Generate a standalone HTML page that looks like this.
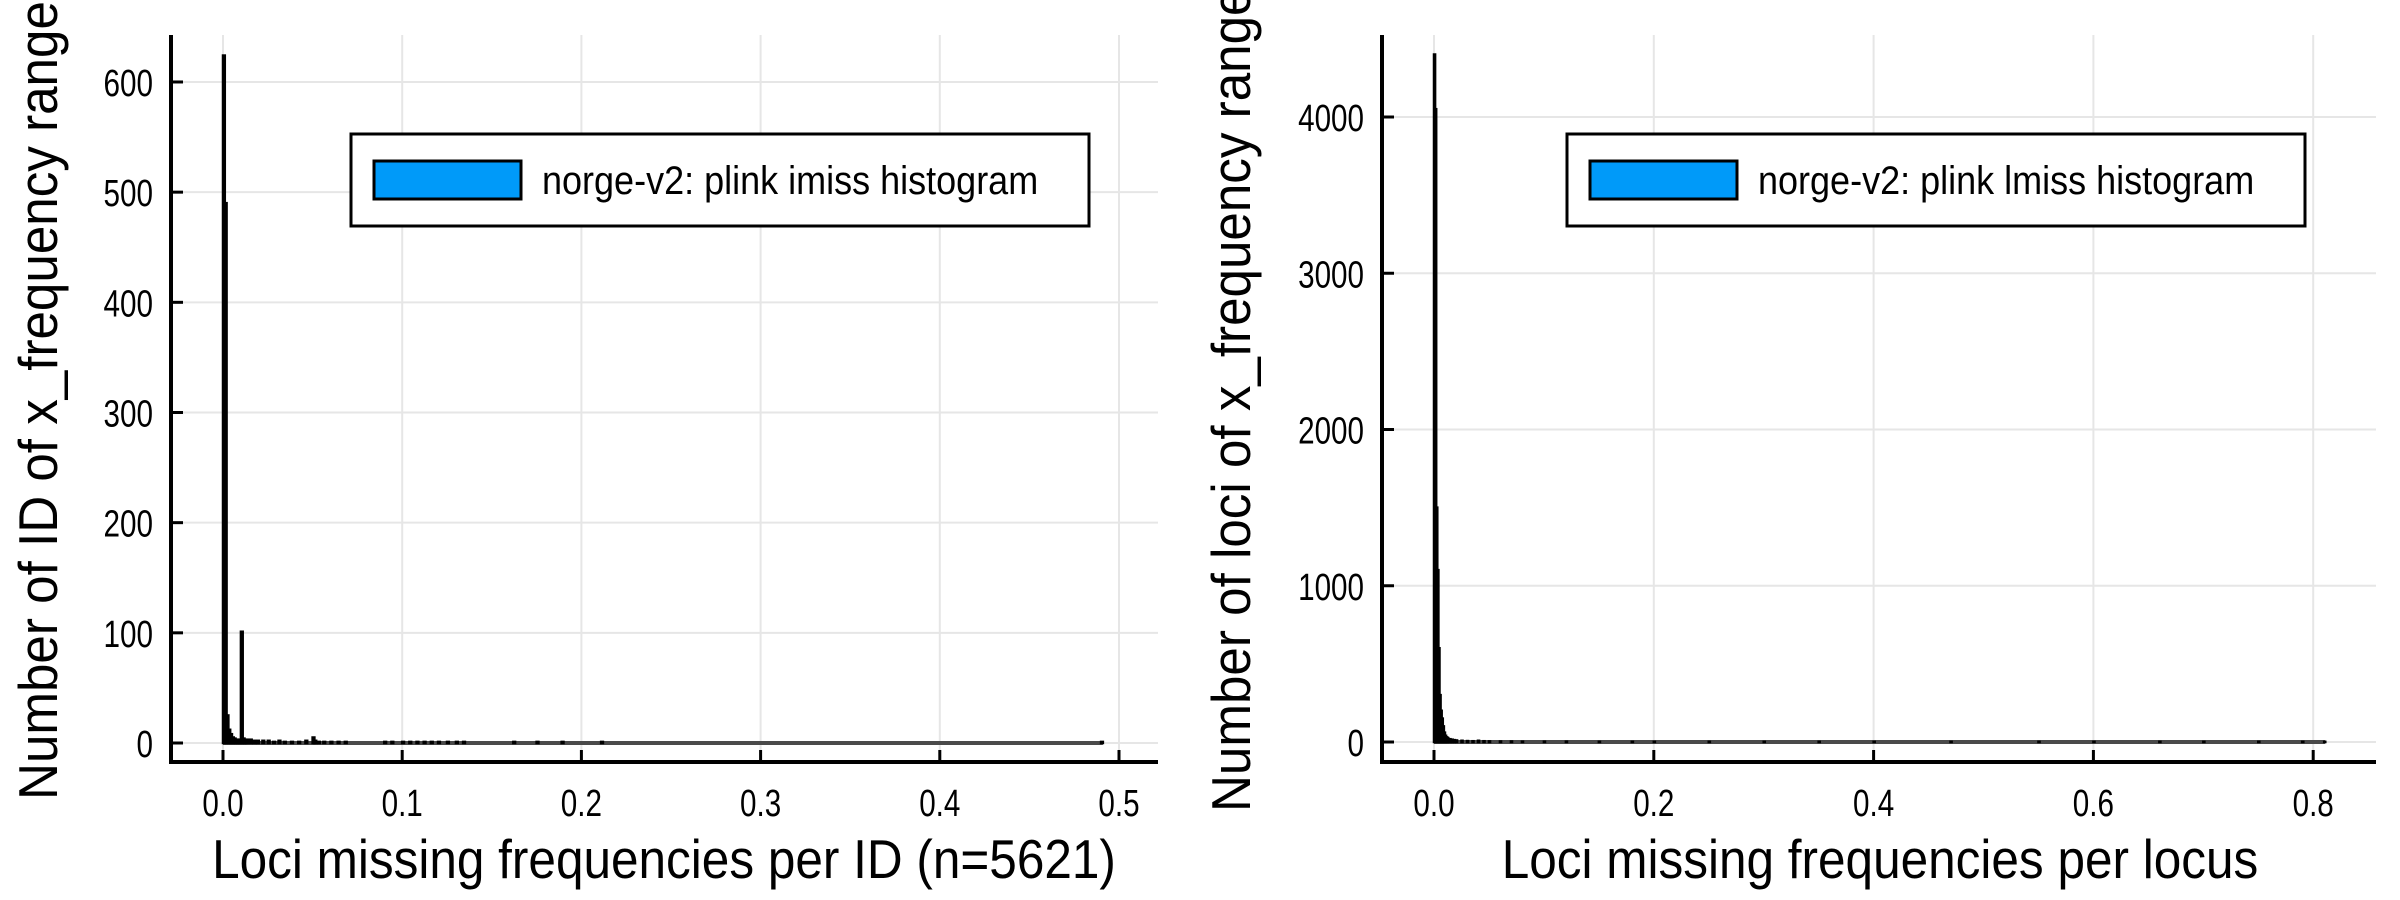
<!DOCTYPE html>
<html><head><meta charset="utf-8"><style>
html,body{margin:0;padding:0;background:#fff;}
svg{display:block;font-family:"Liberation Sans","DejaVu Sans",sans-serif;}
</style></head><body>
<svg id="chart" width="2400" height="900" viewBox="0 0 2400 900" xmlns="http://www.w3.org/2000/svg"></svg>
<script>
// ---- Left panel data (imiss) ----
const leftBinWidth = 0.001;
const leftX = [0,0.001,0.002,0.003,0.004,0.005,0.006,0.007,0.008,0.009,0.010,0.011,0.012,0.013,0.015,0.017,0.019,0.022,0.025,0.028,0.031,0.034,0.038,0.042,0.046,0.050,0.051,0.053,0.056,0.060,0.064,0.068,0.090,0.094,0.100,0.104,0.108,0.112,0.116,0.120,0.125,0.130,0.134,0.162,0.175,0.189,0.211,0.490];
const leftY = [624,490,25,12,8,5,4,3,3,3,101,4,3,3,3,2,2,2,2,1,2,1,1,1,2,5,2,1,1,1,1,1,1,1,1,1,1,1,1,1,1,1,1,1,1,1,1,1];
const leftXTicks = [0,0.1,0.2,0.3,0.4,0.5];
const leftXTickLabels = ["0.0","0.1","0.2","0.3","0.4","0.5"];
const leftYTicks = [0,100,200,300,400,500,600];
const leftYTickLabels = ["0","100","200","300","400","500","600"];

// ---- Right panel data (lmiss) ----
const rightBinWidth = 0.001;
const rightX = [0,0.001,0.002,0.003,0.004,0.005,0.006,0.007,0.008,0.009,0.010,0.011,0.012,0.014,0.016,0.018,0.020,0.025,0.030,0.035,0.040,0.045,0.050,0.060,0.070,0.080,0.100,0.120,0.150,0.180,0.200,0.250,0.300,0.350,0.400,0.470,0.550,0.600,0.660,0.700,0.750,0.790,0.810];
const rightY = [4400,4050,1500,1100,600,300,200,150,100,60,40,30,25,18,15,12,10,8,6,5,8,5,4,3,3,2,2,2,1,1,1,1,1,1,1,1,1,1,1,1,1,1,1];
const rightXTicks = [0,0.2,0.4,0.6,0.8];
const rightXTickLabels = ["0.0","0.2","0.4","0.6","0.8"];
const rightYTicks = [0,1000,2000,3000,4000];
const rightYTickLabels = ["0","1000","2000","3000","4000"];

const NS = "http://www.w3.org/2000/svg";
const svg = document.getElementById('chart');
function mk(tag, attrs, parent){
  const e = document.createElementNS(NS, tag);
  for (const k in attrs) e.setAttribute(k, attrs[k]);
  (parent||svg).appendChild(e);
  return e;
}
function squeeze(t, f){
  try {
    const w = t.getComputedTextLength();
    if (w > 0) { t.setAttribute('textLength', (w*f).toFixed(1)); t.setAttribute('lengthAdjust', 'spacingAndGlyphs'); }
  } catch(e) {}
}

function panel(cfg){
  const g = mk('g', {});
  
  
  const sx = v => cfg.x0 + (v - cfg.xmin) * cfg.xs;
  const sy = v => cfg.y0 - v * cfg.ys;
  cfg.xTicks.forEach(t => {
    const l = mk('line', {x1:sx(t), x2:sx(t), y1:cfg.top, y2:cfg.bottom, stroke:'#e6e6e6', 'stroke-width':2}, g);
    
    
  });
  cfg.yTicks.forEach(t => {
    const l = mk('line', {x1:cfg.left, x2:cfg.right, y1:sy(t), y2:sy(t), stroke:'#e6e6e6', 'stroke-width':2}, g);
    
    
  });
  const maxX = cfg.xs_data[cfg.xs_data.length-1] + cfg.bw;
  const bl = mk('line', {x1:sx(0), x2:sx(maxX), y1:sy(0), y2:sy(0), stroke:'#4a4a4a', 'stroke-width':4}, g);
  
  
  cfg.xs_data.forEach((xv, i) => {
    const v = cfg.ys_data[i];
    const x1 = sx(xv), x2 = sx(xv + cfg.bw);
    const r = mk('rect', {x:x1, y:sy(v), width:Math.max(x2-x1,0.5), height:v*cfg.ys, fill:'#009af9', stroke:'#000', 'stroke-width':2.5}, g);
    
    
  });
  const ax = mk('path', {d:`M${cfg.left},${cfg.top} L${cfg.left},${cfg.bottom} L${cfg.right},${cfg.bottom}`, fill:'none', stroke:'#000', 'stroke-width':4}, g);
  
  
  cfg.xTicks.forEach((t, i) => {
    const tk = mk('line', {x1:sx(t), x2:sx(t), y1:cfg.bottom, y2:cfg.bottom-12, stroke:'#000', 'stroke-width':3}, g);
    
    
    const tx = mk('text', {x:sx(t), y:cfg.bottom+54, 'font-size':38, 'text-anchor':'middle', fill:'#000'}, g);
    tx.textContent = cfg.xTickLabels[i];
    
    
    squeeze(tx, 0.78);
  });
  cfg.yTicks.forEach((t, i) => {
    const tk = mk('line', {x1:cfg.left, x2:cfg.left+12, y1:sy(t), y2:sy(t), stroke:'#000', 'stroke-width':3}, g);
    
    
    const tx = mk('text', {x:cfg.left-18, y:sy(t)+14, 'font-size':38, 'text-anchor':'end', fill:'#000'}, g);
    tx.textContent = cfg.yTickLabels[i];
    
    
    squeeze(tx, 0.78);
  });
  const xt = mk('text', {x:cfg.xlabelX, y:878, 'font-size':55, 'text-anchor':'middle', fill:'#000'}, g);
  xt.textContent = cfg.xlabel;
  
  
  squeeze(xt, 0.9);
  const yt = mk('text', {x:0, y:0, 'font-size':55, 'text-anchor':'start', fill:'#000', transform:`translate(${cfg.ylabelX},${cfg.ylabelY}) rotate(-90)`}, g);
  yt.textContent = cfg.ylabel;
  
  
  squeeze(yt, 0.93);
  const lg = mk('g', {}, g);
  
  
  const lb = mk('rect', {x:cfg.legX, y:134, width:738, height:92, fill:'#fff', stroke:'#000', 'stroke-width':3}, lg);
  
  
  const lp = mk('rect', {x:cfg.legX+23, y:161, width:147, height:38, fill:'#009af9', stroke:'#000', 'stroke-width':3}, lg);
  
  
  const lt = mk('text', {x:cfg.legX+191, y:194, 'font-size':40, fill:'#000'}, lg);
  lt.textContent = cfg.legend;
  
  
  squeeze(lt, 0.9);
}

panel({name:'imiss-panel', xs_data:leftX, ys_data:leftY, bw:leftBinWidth,
  xTicks:leftXTicks, xTickLabels:leftXTickLabels, yTicks:leftYTicks, yTickLabels:leftYTickLabels,
  x0:223, xmin:0, xs:1792, y0:743, ys:1.1017,
  left:171, right:1158, top:35, bottom:762,
  xlabel:'Loci missing frequencies per ID (n=5621)', xlabelX:664,
  ylabel:'Number of ID of x_frequency range', ylabelX:57, ylabelY:800,
  legX:351, legend:'norge-v2: plink imiss histogram'});

panel({name:'lmiss-panel', xs_data:rightX, ys_data:rightY, bw:rightBinWidth,
  xTicks:rightXTicks, xTickLabels:rightXTickLabels, yTicks:rightYTicks, yTickLabels:rightYTickLabels,
  x0:1434, xmin:0, xs:1099, y0:742, ys:0.15625,
  left:1382, right:2376, top:35, bottom:762,
  xlabel:'Loci missing frequencies per locus', xlabelX:1880,
  ylabel:'Number of loci of x_frequency range', ylabelX:1250, ylabelY:812,
  legX:1567, legend:'norge-v2: plink lmiss histogram'});
</script>
</body></html>
